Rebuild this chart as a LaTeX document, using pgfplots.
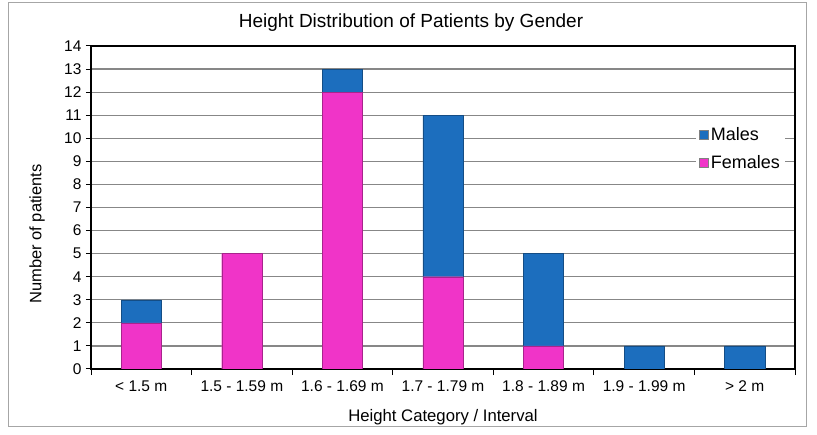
\documentclass[border=0pt]{standalone}
\usepackage{pgfplots}
\pgfplotsset{compat=1.18}
\usepackage{fontspec}
\setmainfont{Liberation Sans}
\definecolor{fem}{RGB}{240,52,200}
\definecolor{mal}{RGB}{28,110,190}
\definecolor{gridc}{RGB}{135,135,135}
\begin{document}
\begin{tikzpicture}[x=1pt,y=1pt]
\useasboundingbox (0,0) rectangle (817,434);
\fill[white] (0,0) rectangle (817,434);
\draw[gray!70, line width=1pt] (8,8) rectangle (806,431);
\begin{axis}[
  at={(91pt,65pt)}, anchor=south west,
  scale only axis, width=704pt, height=323pt,
  ybar stacked, bar width=0.4,
  xmin=-0.5, xmax=6.5, ymin=0, ymax=14,
  xtick={0,...,6},
  xticklabels={{< 1.5 m},{1.5 - 1.59 m},{1.6 - 1.69 m},{1.7 - 1.79 m},{1.8 - 1.89 m},{1.9 - 1.99 m},{> 2 m}},
  minor xtick={-0.5,0.5,...,6.5},
  major x tick style={draw=none},
  ytick={0,...,14},
  tick align=outside, xtick pos=bottom, ytick pos=left,
  major tick length=5pt, minor tick length=6pt,
  every tick/.style={black, line width=1pt},
  ymajorgrids, grid style={gridc, line width=1.2pt},
  axis line style={black, line width=1.3pt},
  tick label style={font=\fontsize{15.5}{18}\selectfont},
  /pgf/number format/assume math mode=true,
  xticklabel style={yshift=-3pt},
  yticklabel style={xshift=-1pt},
  reverse legend,
  legend style={at={(axis cs:5.96,9.55)}, anchor=center, draw=none, fill=white,
    font=\fontsize{18}{20}\selectfont, row sep=9pt, inner xsep=3pt, inner ysep=2pt},
  legend cell align=left,
  legend image code/.code={\draw[#1, draw=black!50] (0pt,-4.5pt) rectangle (9pt,4.5pt);},
]
\addplot[fill=fem, draw=fem!70!black] coordinates {(0,2) (1,5) (2,12) (3,4) (4,1) (5,0) (6,0)};
\addplot[fill=mal, draw=mal!70!black] coordinates {(0,1) (1,0) (2,1) (3,7) (4,4) (5,1) (6,1)};
\legend{Females, Males}
\end{axis}
\node[font=\fontsize{19}{22}\selectfont] at (411,411) {Height Distribution of Patients by Gender};
\node[font=\fontsize{16.7}{19}\selectfont] at (443,17) {Height Category / Interval};
\node[font=\fontsize{16.5}{19}\selectfont, rotate=90] at (37,200) {Number of patients};
\end{tikzpicture}
\end{document}
